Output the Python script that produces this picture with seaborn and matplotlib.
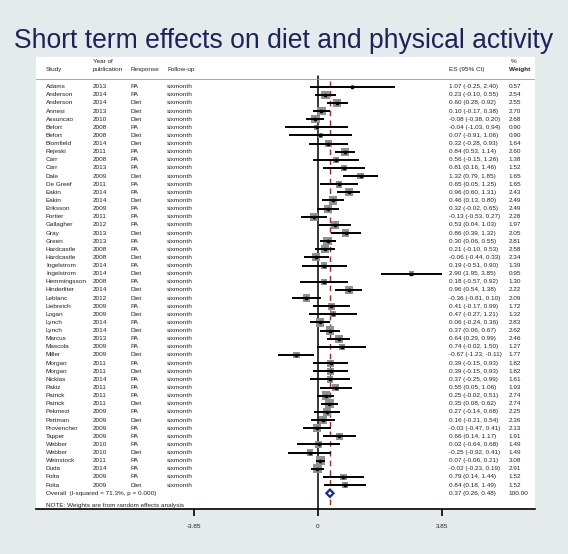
import matplotlib
matplotlib.use("Agg")
import matplotlib.pyplot as plt
import matplotlib.transforms as mtransforms
import numpy as np
import pandas as pd
import seaborn as sns

# Study data
studies = ["Adams", "Anderson", "Anderson", "Annesi", "Assuncao", "Befort", "Befort",
           "Blomfield", "Rejeski", "Carr", "Carr", "Dale", "De Greef", "Eakin", "Eakin",
           "Eriksson", "Fortier", "Gallagher", "Gray", "Green", "Hardcastle", "Hardcastle",
           "Ingelstrom", "Ingelstrom", "Hemmingsson", "Hinderliter", "Leblanc", "Liebreich",
           "Logan", "Lynch", "Lynch", "Marcus", "Mascola", "Miller", "Morgan", "Morgan",
           "Nicklas", "Pakiz", "Patrick", "Patrick", "Pekmezi", "Pettman", "Provencher",
           "Tapper", "Webber", "Webber", "Weinstock", "Duda", "Folta", "Folta"]
years = [2013, 2014, 2014, 2013, 2010, 2008, 2008, 2014, 2011, 2008, 2013, 2009, 2011,
         2014, 2014, 2009, 2011, 2012, 2013, 2013, 2008, 2008, 2014, 2014, 2008, 2014,
         2012, 2009, 2009, 2014, 2014, 2013, 2009, 2009, 2011, 2011, 2014, 2011, 2011,
         2011, 2009, 2009, 2009, 2009, 2010, 2010, 2011, 2014, 2009, 2009]
responses = ["PA", "PA", "Diet", "Diet", "Diet", "PA", "Diet", "Diet", "PA", "PA", "PA",
             "Diet", "PA", "PA", "Diet", "PA", "PA", "PA", "Diet", "PA", "PA", "Diet",
             "PA", "Diet", "PA", "Diet", "Diet", "PA", "Diet", "PA", "Diet", "PA", "PA",
             "Diet", "PA", "Diet", "PA", "PA", "PA", "Diet", "PA", "Diet", "PA", "PA",
             "PA", "Diet", "PA", "PA", "PA", "Diet"]
es = [1.07, 0.23, 0.60, 0.10, -0.08, -0.04, 0.07, 0.32, 0.84, 0.56, 0.81, 1.32, 0.65,
      0.96, 0.46, 0.32, -0.13, 0.53, 0.86, 0.30, 0.21, -0.06, 0.19, 2.90, 0.18, 0.96,
      -0.36, 0.41, 0.47, 0.06, 0.37, 0.64, 0.74, -0.67, 0.39, 0.39, 0.37, 0.55, 0.25,
      0.35, 0.27, 0.16, -0.03, 0.66, 0.02, -0.25, 0.07, -0.02, 0.79, 0.84]
ci_low = [-0.25, -0.10, 0.28, -0.17, -0.38, -1.03, -0.91, -0.28, 0.53, -0.15, 0.16,
          0.79, 0.05, 0.60, 0.13, -0.02, -0.53, 0.04, 0.39, 0.06, -0.10, -0.44, -0.51,
          1.95, -0.57, 0.54, -0.81, -0.17, -0.27, -0.24, 0.06, 0.29, -0.02, -1.23, -0.15,
          -0.15, -0.25, 0.05, -0.02, 0.08, -0.14, -0.21, -0.47, 0.14, -0.64, -0.92, -0.06,
          -0.23, 0.14, 0.18]
ci_high = [2.40, 0.55, 0.92, 0.38, 0.20, 0.94, 1.06, 0.93, 1.14, 1.26, 1.46, 1.85, 1.25,
           1.31, 0.80, 0.65, 0.27, 1.03, 1.32, 0.55, 0.53, 0.33, 0.90, 3.85, 0.92, 1.38,
           0.10, 0.99, 1.21, 0.36, 0.67, 0.99, 1.50, -0.11, 0.93, 0.93, 0.99, 1.06, 0.51,
           0.62, 0.68, 0.54, 0.41, 1.17, 0.68, 0.41, 0.21, 0.19, 1.44, 1.49]
weights = [0.57, 2.54, 2.55, 2.70, 2.68, 0.90, 0.90, 1.64, 2.60, 1.38, 1.52, 1.65, 1.65,
           2.43, 2.49, 2.49, 2.28, 1.97, 2.05, 2.81, 2.58, 2.34, 1.39, 0.95, 1.30, 2.22,
           2.09, 1.72, 1.32, 2.83, 2.62, 2.46, 1.27, 1.77, 1.82, 1.82, 1.61, 1.93, 2.74,
           2.74, 2.25, 2.36, 2.13, 1.91, 1.49, 1.49, 3.08, 2.91, 1.52, 1.52]
overall_es, overall_low, overall_high = 0.37, 0.26, 0.48
i_squared, p_value = 71.3, 0.000
tick_values = [-3.85, 0, 3.85]

df = pd.DataFrame({"study": studies, "year": years, "response": responses,
                   "es": es, "lo": ci_low, "hi": ci_high, "weight": weights})
df["row"] = np.arange(1, len(df) + 1)
overall_row = len(df) + 1

sns.set_style("white")
plt.rcParams["font.family"] = ["Liberation Sans", "DejaVu Sans"]

bg = "#e5eaed"
txt = "#222222"
fs = 4.6

fig = plt.figure(figsize=(5.68, 5.54), dpi=100, facecolor=bg)
ax = fig.add_axes([0.0634, 0.0812, 0.8785, 0.816])
ax.set_facecolor("white")
ax.set_xlim(-8.76, 6.74)
ax.set_ylim(52.94, -2.65)

fig.text(0.5, 0.913, "Short term effects on diet and physical activity",
         ha="center", va="baseline", fontsize=19.1, color="#1c2456")

# reference lines
ax.plot([0, 0], [-0.3, 52.94], color="black", lw=1.1, zorder=1)
ax.plot([overall_es, overall_es], [0.3, 52.94], color="#9e2a2b", lw=1.0,
        ls=(0, (4, 3)), zorder=1)
ax.axhline(0.05, color="#999999", lw=0.6)

# study boxes, CIs and points
wmin, wmax = min(weights), max(weights)
sns.scatterplot(data=df, x="es", y="row", size="weight", sizes=(14 * wmin, 14 * wmax),
                size_norm=(wmin, wmax), marker="s", color="#909090", linewidth=0,
                legend=False, ax=ax, zorder=2)
ax.hlines(df["row"], df["lo"], df["hi"], color="black", lw=1.4, zorder=3)
sns.scatterplot(data=df, x="es", y="row", color="black", s=7, linewidth=0,
                legend=False, ax=ax, zorder=4)

# overall diamond
dx = [overall_low, overall_es, overall_high, overall_es, overall_low]
dy = [overall_row, overall_row - 0.45, overall_row, overall_row + 0.45, overall_row]
ax.fill(dx, dy, facecolor="white", edgecolor="#1c2a7a", lw=1.6, zorder=5)

# text columns
tr = mtransforms.blended_transform_factory(ax.transAxes, ax.transData)
col_study, col_year, col_resp, col_fu, col_es, col_w = 0.020, 0.114, 0.190, 0.263, 0.828, 0.947
kw = dict(transform=tr, fontsize=fs, color=txt, va="center", ha="left")
ax.text(col_study, -1.1, "Study", **kw)
ax.text(col_year, -2.1, "Year of", **kw)
ax.text(col_year, -1.1, "publication", **kw)
ax.text(col_resp, -1.1, "Response", **kw)
ax.text(col_fu, -1.1, "Follow-up", **kw)
ax.text(col_es, -1.1, "ES (95% CI)", **kw)
ax.text(col_w + 0.004, -2.1, "%", **kw)
ax.text(col_w, -1.1, "Weight", fontweight="bold", **kw)

for r in df.itertuples():
    ax.text(col_study, r.row, r.study, **kw)
    ax.text(col_year, r.row, str(r.year), **kw)
    ax.text(col_resp, r.row, r.response, **kw)
    ax.text(col_fu, r.row, "sixmonth", **kw)
    ax.text(col_es, r.row, f"{r.es:.2f} ({r.lo:.2f}, {r.hi:.2f})", **kw)
    ax.text(col_w, r.row, f"{r.weight:.2f}", **kw)

ax.text(col_study, overall_row, f"Overall  (I-squared = {i_squared:.1f}%, p = {p_value:.3f})", **kw)
ax.text(col_es, overall_row, f"{overall_es:.2f} ({overall_low:.2f}, {overall_high:.2f})", **kw)
ax.text(col_w, overall_row, "100.00", **kw)
ax.text(col_study, 52.45, "NOTE: Weights are from random effects analysis", **kw)

# axis
for s in ["top", "left", "right"]:
    ax.spines[s].set_visible(False)
ax.spines["bottom"].set_color("black")
ax.spines["bottom"].set_linewidth(1.2)
ax.set_yticks([])
ax.set_xticks(tick_values)
ax.set_xticklabels([f"{v:g}" for v in tick_values])
ax.tick_params(axis="x", direction="out", length=5, width=1.2, color="black",
               labelsize=fs, labelcolor=txt, pad=6, bottom=True)
ax.set_xlabel("")
ax.set_ylabel("")

fig.savefig("out.png", dpi=100, facecolor=bg)
